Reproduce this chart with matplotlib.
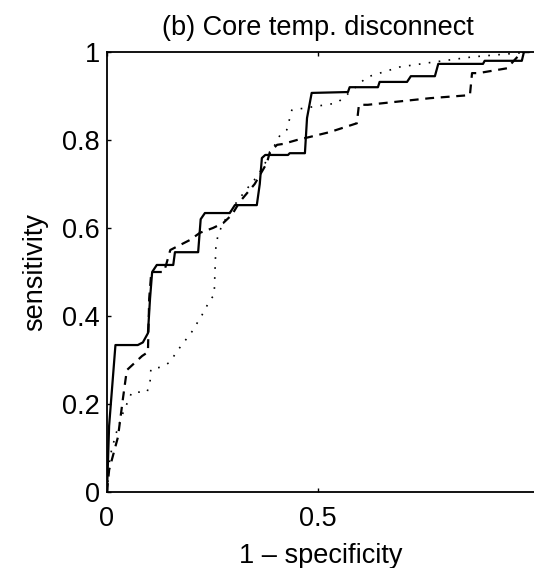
import matplotlib
matplotlib.use('Agg')
import matplotlib.pyplot as plt

# ROC curves
solid_x = [0, 0.005, 0.02, 0.073, 0.085, 0.097, 0.102, 0.107, 0.118, 0.157, 0.161,
           0.216, 0.222, 0.232, 0.291, 0.303, 0.355, 0.362, 0.367, 0.375, 0.429,
           0.433, 0.469, 0.474, 0.485, 0.571, 0.575, 0.642, 0.646, 0.711, 0.72,
           0.777, 0.785, 0.891, 0.895, 0.983, 0.988, 1.0]
solid_y = [0, 0.15, 0.334, 0.334, 0.34, 0.361, 0.44, 0.5, 0.516, 0.516, 0.545,
           0.545, 0.62, 0.634, 0.634, 0.652, 0.652, 0.7, 0.759, 0.766, 0.766,
           0.77, 0.77, 0.85, 0.907, 0.909, 0.92, 0.92, 0.932, 0.932, 0.945,
           0.945, 0.973, 0.973, 0.98, 0.98, 1.0, 1.0]

dashed_x = [0, 0.005, 0.026, 0.038, 0.047, 0.083, 0.097, 0.1, 0.105, 0.135, 0.14,
            0.15, 0.197, 0.22, 0.251, 0.275, 0.296, 0.315, 0.35, 0.379, 0.386,
            0.403, 0.417, 0.45, 0.481, 0.528, 0.592, 0.597, 0.618, 0.765, 0.86,
            0.865, 0.88, 0.948, 0.983, 1.0]
dashed_y = [0, 0.05, 0.125, 0.214, 0.277, 0.309, 0.318, 0.44, 0.5, 0.5, 0.516,
            0.55, 0.573, 0.589, 0.6, 0.611, 0.63, 0.66, 0.7, 0.748, 0.773,
            0.789, 0.791, 0.8, 0.807, 0.818, 0.838, 0.88, 0.88, 0.895, 0.902,
            0.952, 0.952, 0.963, 1.0, 1.0]

dotted_x = [0, 0.007, 0.014, 0.024, 0.038, 0.059, 0.095, 0.102, 0.104, 0.13, 0.149,
            0.166, 0.201, 0.225, 0.244, 0.254, 0.256, 0.258, 0.263, 0.275, 0.308,
            0.339, 0.355, 0.37, 0.41, 0.426, 0.438, 0.545, 0.576, 0.616, 0.694,
            0.773, 0.867, 0.979, 1.0]
dotted_y = [0, 0.08, 0.107, 0.141, 0.18, 0.227, 0.227, 0.25, 0.28, 0.284, 0.295,
            0.32, 0.364, 0.402, 0.436, 0.448, 0.505, 0.557, 0.584, 0.611, 0.66,
            0.698, 0.716, 0.739, 0.811, 0.823, 0.868, 0.884, 0.909, 0.943, 0.966,
            0.977, 0.989, 0.998, 1.0]

x_ticks = [0, 0.5]
x_labels = ['0', '0.5']
y_ticks = [0, 0.2, 0.4, 0.6, 0.8, 1.0]
y_labels = ['0', '0.2', '0.4', '0.6', '0.8', '1']

plt.rcParams['font.family'] = ['Liberation Sans', 'DejaVu Sans']
fs = 19.5

fig = plt.figure(figsize=(5.34, 5.68), dpi=100)
# axes runs off the right edge, like the cropped original
ax = fig.add_axes([107 / 534, 76 / 568, 427 / 534, 440 / 568])

ax.plot(solid_x, solid_y, color='black', linewidth=1.6, linestyle='-')
ax.plot(dashed_x, dashed_y, color='black', linewidth=1.6, linestyle=(0, (4, 3)))
ax.plot(dotted_x, dotted_y, color='black', linewidth=1.2, linestyle=(0, (1, 5)))

ax.set_xlim(0, 427 / 422)
ax.set_ylim(0, 1)
ax.set_xticks(x_ticks)
ax.set_xticklabels(x_labels)
ax.set_yticks(y_ticks)
ax.set_yticklabels(y_labels)
ax.tick_params(direction='in', length=3, width=1, top=True, labelsize=fs)
ax.tick_params(axis='x', pad=10)
ax.tick_params(axis='y', pad=5)
ax.spines['right'].set_visible(False)
for side in ['left', 'top', 'bottom']:
    ax.spines[side].set_linewidth(1.3)

ax.set_xlabel('1 \u2013 specificity', fontsize=fs, labelpad=8)
ax.set_ylabel('sensitivity', fontsize=fs, labelpad=10)
ax.set_title('(b) Core temp. disconnect', fontsize=fs, pad=12, x=(318 - 107) / 427)

fig.savefig('out.png', dpi=100)
